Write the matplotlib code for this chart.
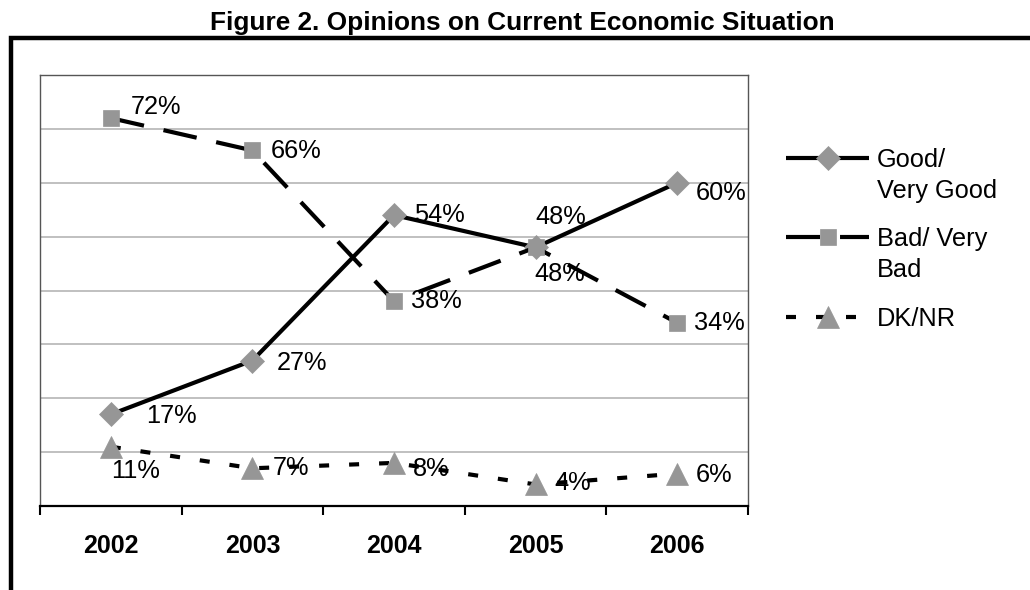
import numpy as np
import matplotlib
matplotlib.use('Agg')
import matplotlib.pyplot as plt
from matplotlib.lines import Line2D
from matplotlib.patches import Rectangle

plt.rcParams['font.family'] = ['Liberation Sans', 'DejaVu Sans']
plt.rcParams['lines.scale_dashes'] = False

# ---- data ----
years = ['2002', '2003', '2004', '2005', '2006']
good = [17, 27, 54, 48, 60]
bad = [72, 66, 38, 48, 34]
dknr = [11, 7, 8, 4, 6]
series_names = ['Good/\nVery Good', 'Bad/ Very\nBad', 'DK/NR']
title = 'Figure 2. Opinions on Current Economic Situation'

# ---- styles ----
W, H = 1030, 590
gray = '#969696'
lw = 3.0
styles = [
    dict(ls='-', marker='D', ms=11.8),
    dict(ls=(0, (24.5, 14.4)), marker='s', ms=11.8),
    dict(ls=(0, (7.2, 14.4)), marker='^', ms=15.5),
]
# label offsets (pixels right, pixels down) for each point
offsets = [
    [(35, 2), (24, 2), (20, 0), (0, -30), (19, 10)],
    [(20, -11), (18, 1), (17, 0), (-1, 27), (17, 0)],
    [(0, 24), (20, 0), (19, 6), (19, -1), (19, 1)],
]

fig = plt.figure(figsize=(W / 100, H / 100), dpi=100)


def fx(px):
    return px / W


def fy(py):
    return 1 - py / H


ax = fig.add_axes([fx(40), fy(506), fx(748) - fx(40), fy(75) - fy(506)])
x = np.arange(len(years))
all_series = [good, bad, dknr]
for vals, st, offs in zip(all_series, styles, offsets):
    ax.plot(x, vals, color='black', lw=lw, linestyle=st['ls'], marker=st['marker'],
            ms=st['ms'], mfc=gray, mec=gray, mew=0.5, solid_capstyle='butt',
            dash_capstyle='butt', clip_on=False, zorder=3)
    for xi, v, (dx, dy) in zip(x, vals, offs):
        ax.annotate(f'{v}%', (xi, v), xytext=(dx, -dy), textcoords='offset pixels',
                    ha='left', va='center', fontsize=18.3, color='black', zorder=4)

ax.set_xlim(-0.5, len(years) - 0.5)
ax.set_ylim(0, 80)
ax.set_xticks(x)
ax.set_xticklabels(years, fontsize=18, fontweight='bold')
ax.set_xticks(np.arange(-0.5, len(years), 1), minor=True)
ax.tick_params(axis='x', which='major', length=0, pad=20.5)
ax.tick_params(axis='x', which='minor', length=6.5, width=1.5, direction='out', color='black')
ax.set_yticks(range(10, 80, 10))
ax.tick_params(axis='y', length=0, labelleft=False)
ax.yaxis.grid(True, color='#c0c0c0', lw=1.4)
ax.set_axisbelow(True)
for s in ['top', 'left', 'right']:
    ax.spines[s].set_color('#555555')
    ax.spines[s].set_linewidth(1.0)
ax.spines['bottom'].set_color('black')
ax.spines['bottom'].set_linewidth(1.6)

# outer frame
fig.patches.append(Rectangle((fx(10.5), fy(800)), fx(1300) - fx(10.5), fy(37.5) - fy(800),
                             transform=fig.transFigure, fill=False, lw=3.2, ec='black'))

fig.text(fx(522), fy(30), title, ha='center', va='baseline', fontsize=18.9, fontweight='bold')

# legend (drawn manually, Excel style with handle at first text line)
leg_y = [158, 237, 317]
for name, st, yy in zip(series_names, styles, leg_y):
    fig.add_artist(Line2D([fx(786), fx(869)], [fy(yy)] * 2, transform=fig.transFigure,
                          color='black', lw=lw, linestyle=st['ls'], dash_capstyle='butt',
                          solid_capstyle='butt'))
    fig.add_artist(Line2D([fx(828)], [fy(yy)], transform=fig.transFigure, linestyle='none',
                          marker=st['marker'], ms=st['ms'], mfc=gray, mec=gray, mew=0.5))
    for i, line in enumerate(name.split('\n')):
        fig.text(fx(877), fy(yy + 2 + 31 * i), line, ha='left', va='center', fontsize=18.3)

fig.savefig('out.png', dpi=100)
